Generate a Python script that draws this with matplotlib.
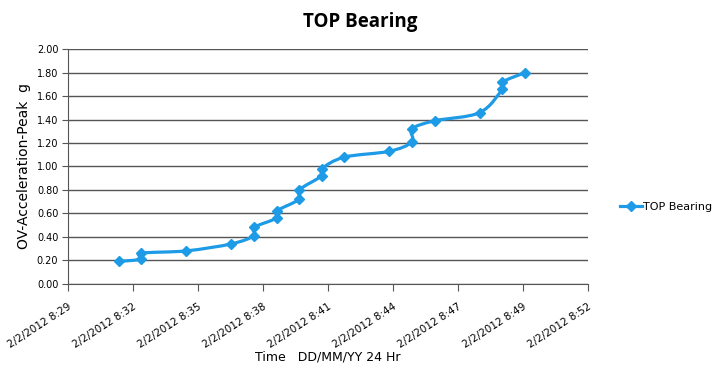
import numpy as np
import pandas as pd
import matplotlib
matplotlib.use("Agg")
import matplotlib.pyplot as plt
import matplotlib.dates as mdates
from matplotlib.path import Path
from matplotlib.patches import PathPatch
from matplotlib.lines import Line2D

# readings (time of day on 2/2/2012, peak acceleration in g)
times = ["08:32", "08:33", "08:33", "08:35", "08:37", "08:38", "08:38",
         "08:39", "08:39", "08:40", "08:40", "08:41", "08:41", "08:42",
         "08:44", "08:45", "08:45", "08:46", "08:48", "08:49", "08:49", "08:50"]
values = [0.19, 0.21, 0.26, 0.28, 0.34, 0.41, 0.48,
          0.56, 0.62, 0.72, 0.80, 0.92, 0.98, 1.08,
          1.13, 1.21, 1.32, 1.39, 1.46, 1.66, 1.72, 1.80]
series_name = "TOP Bearing"

# excel style date axis: min 0.354 day, major unit 0.002 day
axis_start = pd.Timestamp("2012-02-02 08:29:45.6")
tick_times = pd.date_range(axis_start, periods=9, freq="172.8s")

color = "#1e9be6"

dt = pd.to_datetime(["2012-02-02 " + t for t in times])
x = mdates.date2num(dt)
y = np.array(values)

fig = plt.figure(figsize=(7.2, 3.72), dpi=100)
ax = fig.add_axes([68/720, 1-283.7/372, 520/720, 234.4/372])

# smoothed line like Excel (bezier through the points)
pts = np.column_stack([x, y])
verts = [pts[0]]
codes = [Path.MOVETO]
n = len(pts)
for i in range(n - 1):
    p_prev = pts[i - 1] if i > 0 else pts[i]
    p_next2 = pts[i + 2] if i + 2 < n else pts[i + 1]
    c1 = pts[i] + (pts[i + 1] - p_prev) / 6
    c2 = pts[i + 1] - (p_next2 - pts[i]) / 6
    verts += [c1, c2, pts[i + 1]]
    codes += [Path.CURVE4] * 3
ax.add_patch(PathPatch(Path(verts, codes), facecolor="none", edgecolor=color,
                       lw=2.3, zorder=3))
ax.plot(x, y, ls="none", marker="D", ms=5, color=color, mec=color, zorder=4)

ax.set_xlim(mdates.date2num(tick_times[0]), mdates.date2num(tick_times[-1]))
ax.set_ylim(0, 2.0)
ax.set_yticks(np.arange(0, 2.01, 0.2))
ax.set_yticklabels([f"{v:.2f}" for v in np.arange(0, 2.01, 0.2)], fontsize=7)
ax.set_xticks(mdates.date2num(tick_times))
ax.set_xticklabels([t.strftime("%-m/%-d/%Y %-H:%M") for t in tick_times],
                   rotation=33, ha="right", rotation_mode="anchor", fontsize=7.5)

ax.grid(axis="y", color="#555555", lw=1)
ax.set_axisbelow(True)
for s in ["top", "right"]:
    ax.spines[s].set_visible(False)
for s in ["left", "bottom"]:
    ax.spines[s].set_color("#555555")
ax.tick_params(axis="x", length=5, color="#555555", pad=8)
ax.tick_params(axis="y", length=4, color="#555555", pad=3)

ax.set_ylabel("OV-Acceleration-Peak  g", fontsize=10, labelpad=4)
ax.set_xlabel("Time   DD/MM/YY 24 Hr", fontsize=9, labelpad=0)
fig.text(0.5, 1-22/372, "TOP Bearing", ha="center", va="center",
         fontsize=13.5, fontweight="bold", family="Open Sans")

handle = Line2D([], [], color=color, lw=2.3, marker="D", ms=5)
fig.legend([handle], [series_name], loc="center left", frameon=False,
           bbox_to_anchor=(610/720, 1-207/372), fontsize=8, handlelength=2.0,
           handletextpad=0.1)

fig.savefig("out.png", dpi=100)
